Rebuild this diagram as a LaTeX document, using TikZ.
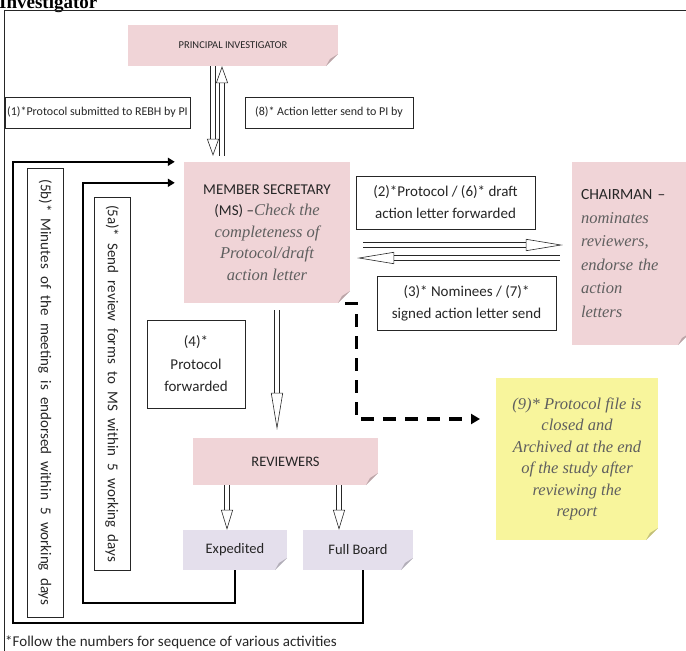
\documentclass[tikz,border=0pt]{standalone}
\usepackage{fontspec}
\setmainfont{Carlito}
\newfontfamily\notefont{Liberation Serif}
\newfontfamily\headfont{Liberation Serif}
\usetikzlibrary{arrows.meta}
\definecolor{notepink}{HTML}{F0D4D7}
\definecolor{notelilac}{HTML}{E4DFEC}
\definecolor{noteyellow}{HTML}{F8F59C}
\definecolor{notegray}{HTML}{5F5F5F}
\definecolor{inkgray}{HTML}{262626}
\newcommand\nt[1]{{\notefont\itshape\color{notegray}\fontsize{16.5}{21.5}\selectfont #1}}

\tikzset{
  note/.style={fill=#1, inner sep=0pt, align=center, text=inkgray,
    path picture={
      \fill[white] ([xshift=-12pt]path picture bounding box.south east)
        -- (path picture bounding box.south east)
        -- ([yshift=12pt]path picture bounding box.south east) -- cycle;
      \fill[#1!78!black] ([xshift=-12pt]path picture bounding box.south east)
        -- ([yshift=12pt]path picture bounding box.south east)
        -- ([xshift=-8pt,yshift=7pt]path picture bounding box.south east) -- cycle;
    }},
  lbl/.style={draw=inkgray, line width=0.7pt, fill=white, align=center, inner sep=0pt, text=inkgray},
  hollow/.style={draw=inkgray, line width=0.6pt, double=white, double distance=4pt,
    -{Triangle[open, length=#1, width=12pt]}},
  loopline/.style={draw=black, line width=2.4pt, -{Triangle[length=7pt, width=8pt]}},
  dashline/.style={draw=black, line width=3.2pt, dash pattern=on 13pt off 9pt,
    -{Triangle[length=9pt, width=10pt]}}
}

\begin{document}
\begin{tikzpicture}[x=1pt,y=-1pt,font=\fontsize{12}{14}\selectfont]
\useasboundingbox (0,0) rectangle (686,651);
\clip (0,0) rectangle (686,651);
\node[anchor=base west, inner sep=0pt, font=\headfont\bfseries\fontsize{19}{21}\selectfont] (head) at (-1,8) {Investigator};
\draw[inkgray, line width=1pt] (4,651) -- (4,10) -- (686,10);

\node[note=notepink, minimum width=210, minimum height=41, font=\fontsize{10.5}{13}\selectfont] (pi) at (233,45.5) {PRINCIPAL INVESTIGATOR};
\node[note=notepink, minimum width=166, minimum height=141, font=\fontsize{15}{21.5}\selectfont] (ms) at (267,232.5)
  {MEMBER SECRETARY\\(MS) \textendash\nt{Check the}\\\nt{completeness of}\\\nt{Protocol/draft}\\\nt{action letter}};
\node[note=notepink, minimum width=118, minimum height=183, text width=100, align=left, font=\fontsize{15.5}{23.5}\selectfont] (ch) at (631,253.5)
  {CHAIRMAN \textendash\\\nt{nominates}\\\nt{reviewers,}\\\nt{endorse the}\\\nt{action}\\\nt{letters}};
\node[note=notepink, minimum width=185, minimum height=47, font=\fontsize{14.5}{16}\selectfont] (rev) at (285.5,461.5) {REVIEWERS};
\node[note=notelilac, minimum width=104, minimum height=40, font=\fontsize{14.5}{16}\selectfont] (exp) at (235,550) {Expedited};
\node[note=notelilac, minimum width=110, minimum height=40, font=\fontsize{14.5}{16}\selectfont] (fb) at (358,550) {Full Board};
\node[note=noteyellow, minimum width=162, minimum height=162, font=\fontsize{16.5}{21.5}\selectfont] (arch) at (577,459)
  {\nt{(9)* Protocol file is}\\\nt{closed and}\\\nt{Archived at the end}\\\nt{of the study after}\\\nt{reviewing the}\\\nt{report}};

\node[lbl, minimum width=185, minimum height=31] (l1) at (97.5,112.5) {(1)*Protocol submitted to REBH by PI};
\node[lbl, minimum width=168, minimum height=31] (l8) at (329,112.5) {(8)* Action letter send to PI by};
\node[lbl, minimum width=179, minimum height=53, font=\fontsize{15}{22}\selectfont] (l2) at (445.5,202.5) {(2)*Protocol / (6)* draft\\action letter forwarded};
\node[lbl, minimum width=179, minimum height=54, font=\fontsize{15}{22}\selectfont] (l3) at (466.5,303) {(3)* Nominees / (7)*\\signed action letter send};
\node[lbl, minimum width=98, minimum height=88, font=\fontsize{15}{22.5}\selectfont] (l4) at (196,364) {(4)*\\Protocol\\forwarded};
\node[lbl, rotate=-90, minimum width=449, minimum height=36, font=\fontsize{15}{16}\selectfont] (l5b) at (45,392.5)
  {\makebox[426pt][s]{(5b)* Minutes of the meeting is endorsed within 5 working days}};
\node[lbl, rotate=-90, minimum width=373, minimum height=36, font=\fontsize{15}{16}\selectfont] (l5a) at (112,383.5)
  {\makebox[357pt][s]{(5a)* Send review forms to MS within 5 working days}};
\node[anchor=west, inner sep=0pt, text=inkgray, font=\fontsize{15}{17}\selectfont] (foot) at (5,642) {*Follow the numbers for sequence of various activities};

\draw[hollow=17pt, shorten >=6pt] ([xshift=-20pt]pi.south) -- ([xshift=-20pt]pi.south |- ms.north);
\draw[hollow=17pt, shorten <=6pt] ([xshift=-11pt]pi.south |- ms.north) -- ([xshift=-11pt]pi.south);
\draw[hollow=37pt, shorten <=13pt, shorten >=9pt] ([yshift=-12.5pt]ms.east) -- ([yshift=-12.5pt]ms.east -| ch.west);
\draw[hollow=37pt, shorten <=12pt, shorten >=7pt] ([yshift=-25.5pt]ms.east -| ch.west) -- ([yshift=-25.5pt]ms.east);
\draw[hollow=37pt, shorten <=7pt, shorten >=8pt] ([xshift=10pt]ms.south) -- ([xshift=10pt]ms.south |- rev.north);
\draw[hollow=20pt] ([xshift=-8pt]exp.north |- rev.south) -- ([xshift=-8pt]exp.north);
\draw[hollow=20pt] ([xshift=-19pt]fb.north |- rev.south) -- ([xshift=-19pt]fb.north);

\coordinate (in5b) at ([xshift=-9pt]ms.north west);
\coordinate (in5a) at ([xshift=-9pt,yshift=-21pt]ms.north west);
\coordinate (out9) at (480,419);
\draw[loopline] (exp.south) |- (83,603) |- (in5a);
\draw[loopline] ([xshift=5pt]fb.south) |- (13,623) |- (in5b);
\draw[dashline] ([xshift=-5pt]ms.south east) -- ++(11,0) |- (out9);
\end{tikzpicture}
\end{document}
